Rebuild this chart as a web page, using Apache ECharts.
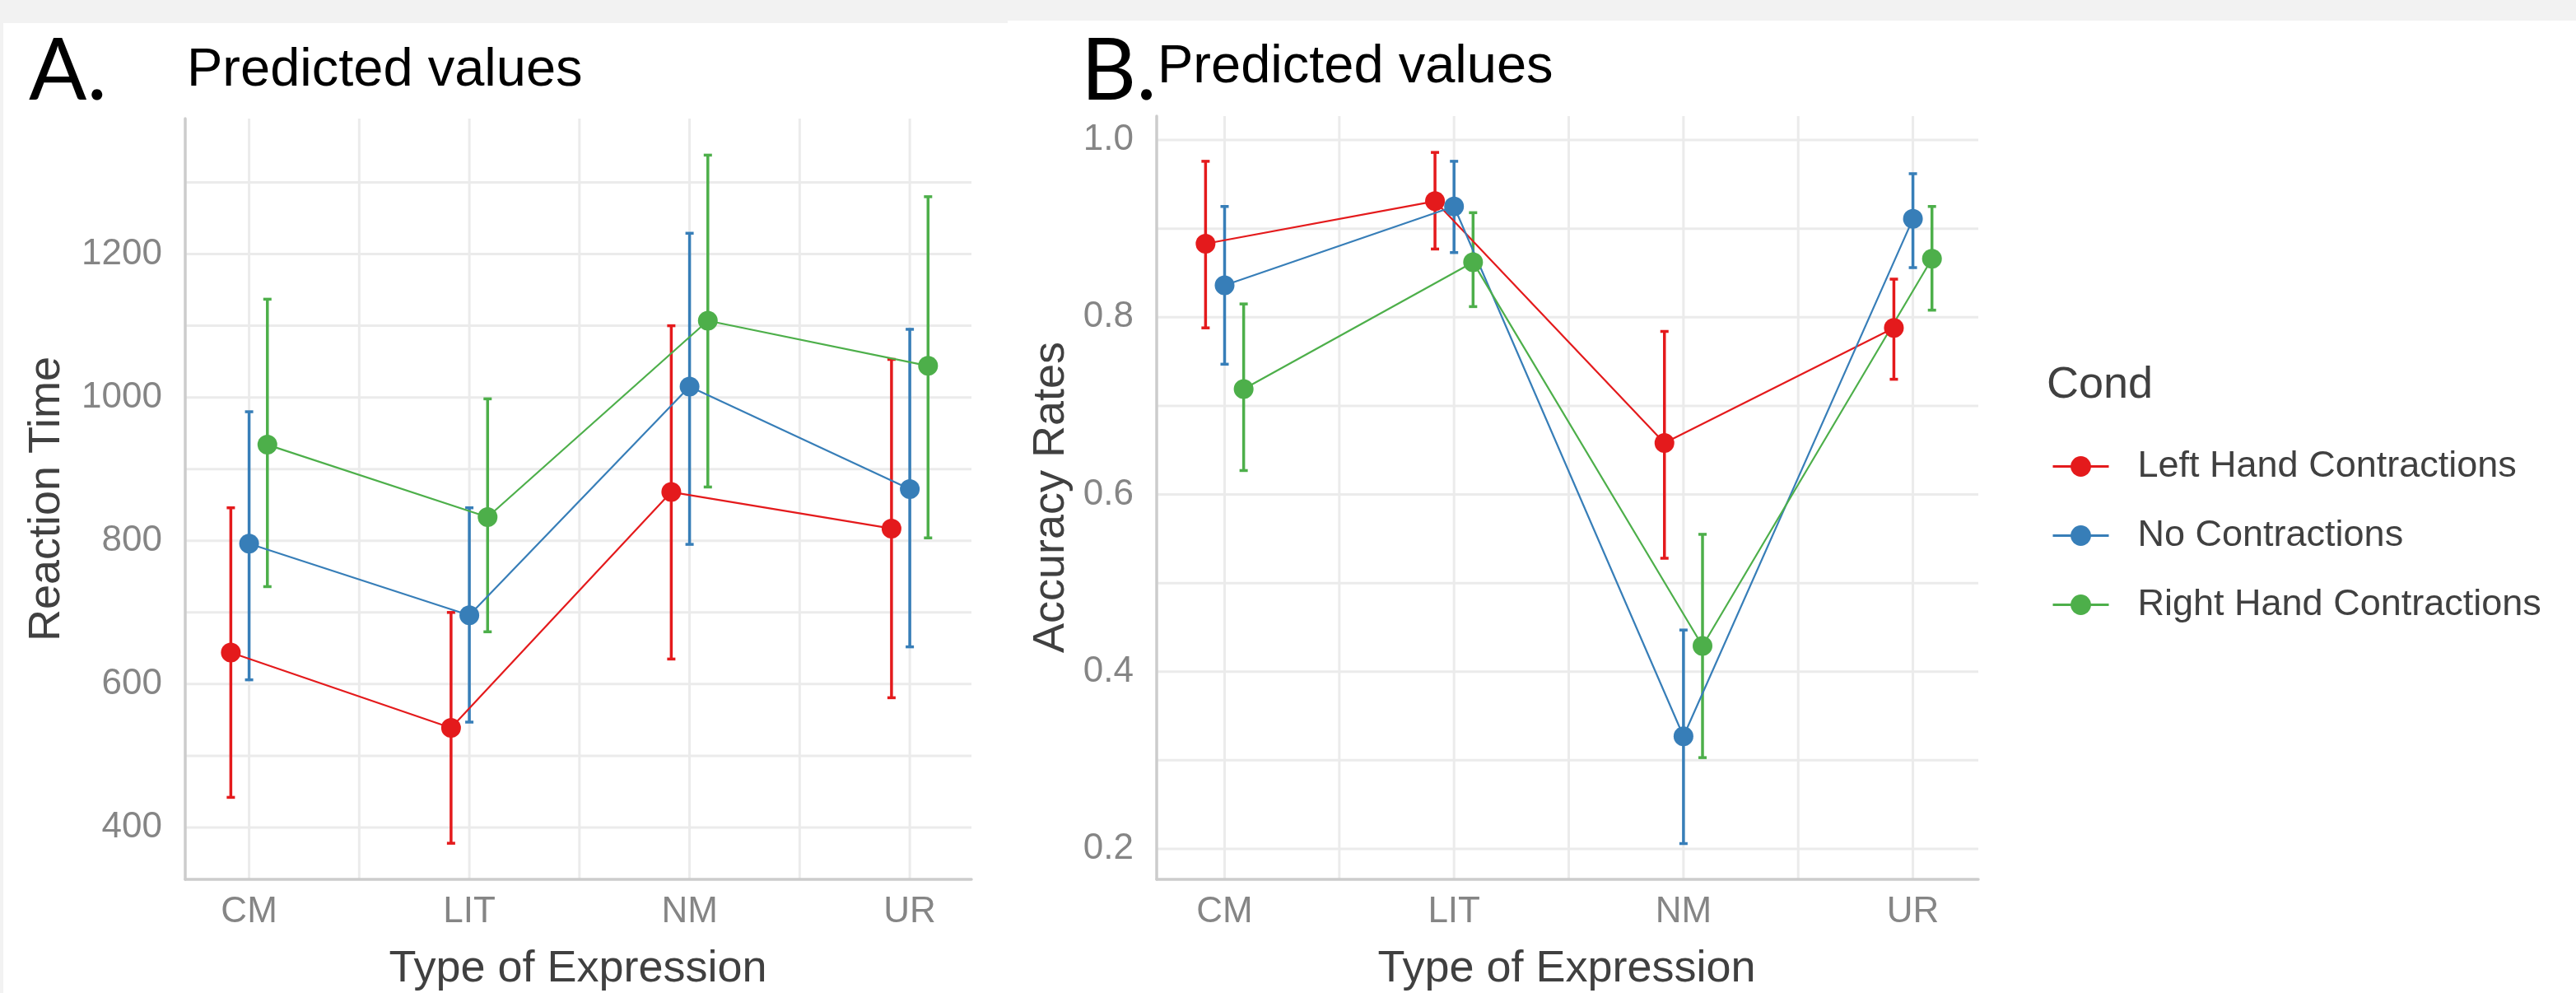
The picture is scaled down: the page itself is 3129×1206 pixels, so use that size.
<!DOCTYPE html>
<html>
<head>
<meta charset="utf-8">
<script src="https://cdn.jsdelivr.net/npm/echarts@6/dist/echarts.min.js"></script>
<style>
html, body { margin: 0; padding: 0; background: #f2f2f2; }
#main { width: 3129px; height: 1206px; }
</style>
</head>
<body>
<div id="main"></div>
<script>
// categories / groups
var categories = ['CM', 'LIT', 'NM', 'UR'];
var conditions = ['Left Hand Contractions', 'No Contractions', 'Right Hand Contractions'];
var colors = ['#E41A1C', '#377EB8', '#4DAF4A'];
var dodge = [-0.083, 0, 0.083];

// A. reaction time: predicted, lower, upper
var rtLeft = [644, 539, 868, 817];
var rtLeftLo = [442, 378, 635, 581];
var rtLeftHi = [846, 700, 1100, 1053];
var rtNone = [796, 696, 1015, 872];
var rtNoneLo = [606, 547, 795, 652];
var rtNoneHi = [980, 846, 1229, 1095];
var rtRight = [934, 833, 1107, 1044];
var rtRightLo = [736, 673, 875, 804];
var rtRightHi = [1137, 998, 1338, 1280];

// B. accuracy rates: predicted, lower, upper
var accLeft = [0.883, 0.931, 0.658, 0.788];
var accLeftLo = [0.788, 0.877, 0.528, 0.730];
var accLeftHi = [0.976, 0.986, 0.784, 0.843];
var accNone = [0.836, 0.925, 0.327, 0.911];
var accNoneLo = [0.747, 0.873, 0.206, 0.856];
var accNoneHi = [0.925, 0.976, 0.447, 0.962];
var accRight = [0.719, 0.862, 0.429, 0.866];
var accRightLo = [0.627, 0.812, 0.303, 0.808];
var accRightHi = [0.815, 0.918, 0.555, 0.925];

// ticks / grid lines
var rtTicks = [400, 600, 800, 1000, 1200];
var rtGrid = [400, 500, 600, 700, 800, 900, 1000, 1100, 1200, 1300];
var accTicks = [0.2, 0.4, 0.6, 0.8, 1.0];
var accGrid = [0.2, 0.3, 0.4, 0.5, 0.6, 0.7, 0.8, 0.9, 1.0];
var xTicks = [1, 2, 3, 4];
var xGrid = [1, 1.5, 2, 2.5, 3, 3.5, 4];

var FONT = '"Liberation Sans", Arial, sans-serif';
var gridColor = '#ebebeb';

var myChart = echarts.init(document.getElementById('main'));

function hGridSeries(g, vals) {
    return {
        type: 'custom', xAxisIndex: g, yAxisIndex: g, silent: true, z: -1,
        data: vals.map(function (v) { return [xTicks[0], v]; }),
        renderItem: function (params, api) {
            var cs = params.coordSys;
            var y = api.coord([api.value(0), api.value(1)])[1];
            return { type: 'line', shape: { x1: cs.x, y1: y, x2: cs.x + cs.width, y2: y },
                style: { stroke: gridColor, lineWidth: 3 } };
        }
    };
}

function vGridSeries(g, vals, yRef) {
    return {
        type: 'custom', xAxisIndex: g, yAxisIndex: g, silent: true, z: -1,
        data: vals.map(function (v) { return [v, yRef]; }),
        renderItem: function (params, api) {
            var cs = params.coordSys;
            var x = api.coord([api.value(0), api.value(1)])[0];
            return { type: 'line', shape: { x1: x, y1: cs.y, x2: x, y2: cs.y + cs.height },
                style: { stroke: gridColor, lineWidth: 3 } };
        }
    };
}

function lineSeries(g, c, means) {
    return {
        name: conditions[c], type: 'line', xAxisIndex: g, yAxisIndex: g, z: 3,
        data: means.map(function (v, i) { return [i + 1 + dodge[c], v]; }),
        symbol: 'circle', symbolSize: 24,
        itemStyle: { color: colors[c] },
        lineStyle: { color: colors[c], width: 2.2 }
    };
}

function errSeries(g, c, lows, highs) {
    return {
        name: conditions[c], type: 'custom', xAxisIndex: g, yAxisIndex: g, z: 2, silent: true,
        encode: { x: 0, y: [1, 2] },
        data: lows.map(function (lo, i) { return [i + 1 + dodge[c], lo, highs[i]]; }),
        renderItem: function (params, api) {
            var top = api.coord([api.value(0), api.value(2)]);
            var bot = api.coord([api.value(0), api.value(1)]);
            var st = { stroke: colors[c], lineWidth: 3.5 };
            var cap = 5;
            return { type: 'group', children: [
                { type: 'line', shape: { x1: top[0], y1: top[1], x2: bot[0], y2: bot[1] }, style: st },
                { type: 'line', shape: { x1: top[0] - cap, y1: top[1], x2: top[0] + cap, y2: top[1] }, style: st },
                { type: 'line', shape: { x1: bot[0] - cap, y1: bot[1], x2: bot[0] + cap, y2: bot[1] }, style: st }
            ] };
        }
    };
}

function xAxisOpt(g, min, max) {
    return {
        type: 'value', gridIndex: g, min: min, max: max,
        axisLine: { show: true, onZero: false, lineStyle: { color: '#cccccc', width: 3.5 } },
        axisTick: { show: false },
        splitLine: { show: false },
        axisLabel: {
            customValues: xTicks, margin: 18,
            color: '#858585', fontSize: 44, fontFamily: FONT,
            formatter: function (v) { return categories[Math.round(v) - 1]; }
        }
    };
}

function yAxisOpt(g, min, max, ticks, digits) {
    return {
        type: 'value', gridIndex: g, min: min, max: max,
        axisLine: { show: true, onZero: false, lineStyle: { color: '#cccccc', width: 3.5 } },
        axisTick: { show: false },
        splitLine: { show: false },
        axisLabel: {
            customValues: ticks, margin: 28,
            color: '#858585', fontSize: 44, fontFamily: FONT,
            formatter: function (v) { return digits ? v.toFixed(digits) : String(v); }
        }
    };
}

var rtMeans = [rtLeft, rtNone, rtRight];
var rtLows = [rtLeftLo, rtNoneLo, rtRightLo];
var rtHighs = [rtLeftHi, rtNoneHi, rtRightHi];
var accMeans = [accLeft, accNone, accRight];
var accLows = [accLeftLo, accNoneLo, accRightLo];
var accHighs = [accLeftHi, accNoneHi, accRightHi];

var series = [];
[0, 1, 2].forEach(function (c) { series.push(lineSeries(0, c, rtMeans[c])); });
[0, 1, 2].forEach(function (c) { series.push(lineSeries(1, c, accMeans[c])); });
[0, 1, 2].forEach(function (c) { series.push(errSeries(0, c, rtLows[c], rtHighs[c])); });
[0, 1, 2].forEach(function (c) { series.push(errSeries(1, c, accLows[c], accHighs[c])); });
series.push(hGridSeries(0, rtGrid), vGridSeries(0, xGrid, rtGrid[0]));
series.push(hGridSeries(1, accGrid), vGridSeries(1, xGrid, accGrid[0]));

function txt(x, y, s, size, color, family, align, rot) {
    return {
        type: 'text', x: x, y: y, rotation: rot || 0, z: 10,
        style: { text: s, fontSize: size, fontFamily: family, fill: color,
            align: align || 'left', verticalAlign: 'middle' }
    };
}

var option = {
    backgroundColor: '#f2f2f2',
    animation: false,
    grid: [
        { left: 225, top: 144, width: 955, height: 924 },
        { left: 1405, top: 141, width: 998, height: 927 }
    ],
    xAxis: [xAxisOpt(0, 0.71, 4.28), xAxisOpt(1, 0.704, 4.285)],
    yAxis: [yAxisOpt(0, 327.6, 1389, rtTicks, 0), yAxisOpt(1, 0.1656, 1.027, accTicks, 1)],
    legend: {
        data: conditions, orient: 'vertical', left: 2492, top: 544,
        padding: 0, itemGap: 39, itemWidth: 68, itemHeight: 31,
        lineStyle: { width: 3 },
        textStyle: { color: '#404040', fontSize: 45, fontFamily: FONT, padding: [0, 0, 0, 30] },
        selectedMode: false
    },
    graphic: [
        { type: 'rect', z: -100, shape: { x: 4, y: 28, width: 1220, height: 1178 }, style: { fill: '#ffffff' } },
        { type: 'rect', z: -100, shape: { x: 1224, y: 25, width: 1905, height: 1181 }, style: { fill: '#ffffff' } },
        txt(35, 87.5, 'A.', 104, '#000', 'Lato, "Noto Sans", sans-serif'),
        txt(1313, 87.5, 'B.', 104, '#000', 'Lato, "Noto Sans", sans-serif'),
        txt(227, 86.5, 'Predicted values', 65, '#000', FONT),
        txt(1406, 82, 'Predicted values', 65, '#000', FONT),
        txt(57, 606, 'Reaction Time', 54, '#404040', FONT, 'center', Math.PI / 2),
        txt(1277, 604, 'Accuracy Rates', 54, '#404040', FONT, 'center', Math.PI / 2),
        txt(702, 1177, 'Type of Expression', 54, '#404040', FONT, 'center'),
        txt(1903, 1177, 'Type of Expression', 54, '#404040', FONT, 'center'),
        txt(2486, 468.5, 'Cond', 54, '#404040', FONT)
    ],
    series: series
};

myChart.setOption(option);
</script>
</body>
</html>
